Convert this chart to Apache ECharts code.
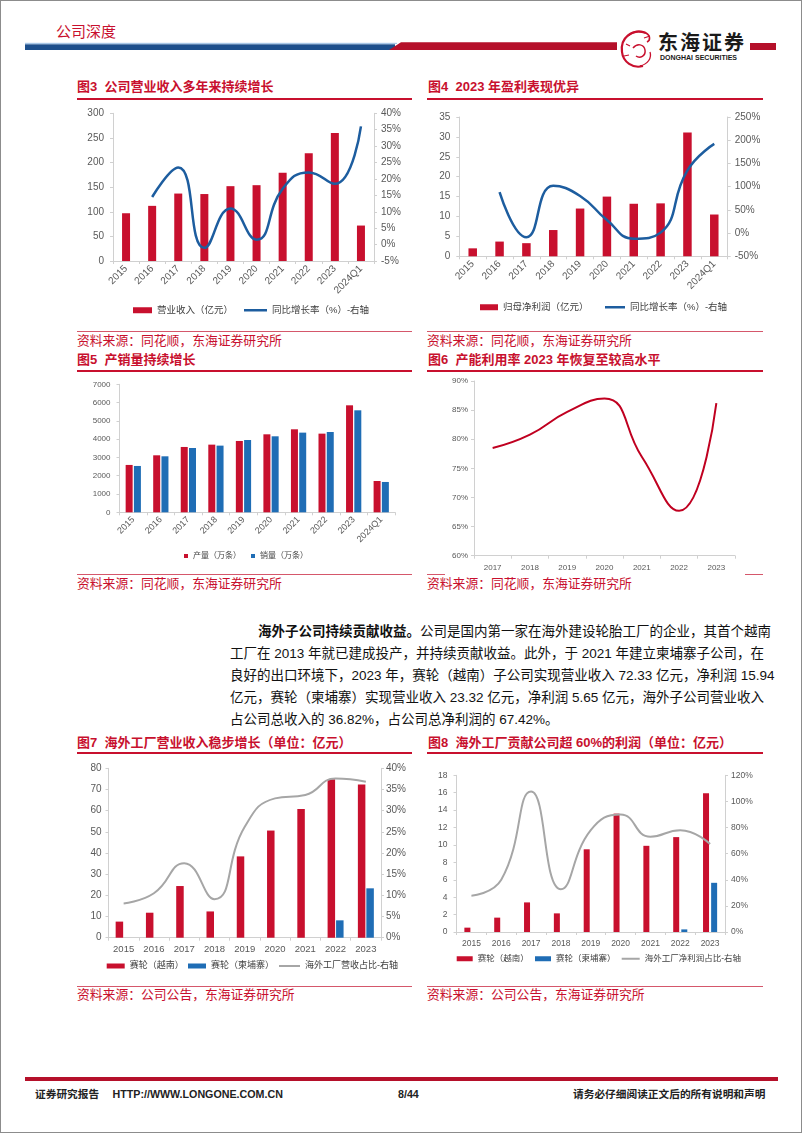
<!DOCTYPE html>
<html><head><meta charset="utf-8">
<script src="https://cdn.jsdelivr.net/npm/echarts@6/dist/echarts.min.js"></script>
<style>
html,body{margin:0;padding:0;background:#fff;}
#page{position:relative;width:802px;height:1133px;overflow:hidden;background:#fff;font-family:"Liberation Sans","Noto Sans CJK SC",sans-serif;}
#frame{position:absolute;left:0;top:0;width:802px;height:1133px;box-sizing:border-box;border:1px solid #8c8c8c;pointer-events:none;}
.abs{position:absolute;white-space:nowrap;}
.title{position:absolute;white-space:nowrap;font-weight:bold;font-size:13px;color:#c8102e;line-height:16px;}
.tline{position:absolute;height:2px;background:#c8102e;}
.sline{position:absolute;height:1px;background:#d5576b;}
.src{position:absolute;white-space:nowrap;font-size:12.8px;color:#c8102e;line-height:16px;}
.para{position:absolute;white-space:nowrap;font-family:"Liberation Sans Narrow","Liberation Sans","Noto Sans CJK SC",sans-serif;font-size:13.5px;line-height:22px;color:#111;text-align:justify;text-align-last:justify;}
.foot{position:absolute;white-space:nowrap;font-weight:bold;font-size:10.7px;line-height:14px;color:#222;}
#chart{position:absolute;left:0;top:0;width:802px;height:1133px;}
</style>
</head>
<body>
<div id="page">
  <svg class="abs" width="802" height="80" style="left:0;top:0">
    <rect x="25" y="42.8" width="372" height="1.2" fill="#a9c8e8"/>
    <rect x="25" y="44.3" width="370" height="5.7" fill="#1d4f8c"/>
    <polygon points="389,50 401,42.3 617,42.3 617,50" fill="#b5102a"/>
    <rect x="750" y="43" width="26" height="7" fill="#b5102a"/>
    <path d="M646 33 C632 28 620 38 622 52 C623 62 633 69 643 66" fill="none" stroke="#c8102e" stroke-width="2.2"/>
    <path d="M628 36 C633 31 640 30 646 33 C650 35 651 40 647 42" fill="none" stroke="#c8102e" stroke-width="1.6"/>
    <path d="M633 48 C637 43 644 44 645 50 C646 56 640 59 636 56" fill="none" stroke="#c8102e" stroke-width="1.5"/>
    <path d="M640 66 C648 64 652 58 650 52" fill="none" stroke="#c8102e" stroke-width="1.3"/>
    <path d="M626 44 L630 46 M624 56 L629 55 M644 38 L650 36" stroke="#c8102e" stroke-width="1.2"/>
  </svg>
  <div class="abs" style="left:56px;top:23px;font-size:15px;line-height:18px;color:#c8102e;">公司深度</div>
  <div class="abs" style="left:658px;top:31px;font-size:20px;line-height:24px;font-weight:bold;color:#1a1a1a;letter-spacing:2px;">东海证券</div>
  <div class="abs" style="left:660px;top:53px;font-size:7px;line-height:9px;font-weight:bold;color:#1a1a1a;">DONGHAI SECURITIES</div>

  <div class="title" style="left:77px;top:79px;">图3&nbsp;&nbsp;公司营业收入多年来持续增长</div>
  <div class="tline" style="left:77px;top:97.5px;width:335px;"></div>
  <div class="title" style="left:428px;top:79px;">图4&nbsp;&nbsp;2023 年盈利表现优异</div>
  <div class="tline" style="left:427px;top:97.5px;width:336px;"></div>
  <div class="sline" style="left:77px;top:331px;width:335px;"></div>
  <div class="sline" style="left:427px;top:331px;width:336px;"></div>
  <div class="src" style="left:77px;top:333px;">资料来源：同花顺，东海证券研究所</div>
  <div class="src" style="left:427px;top:333px;">资料来源：同花顺，东海证券研究所</div>

  <div class="title" style="left:77px;top:352px;">图5&nbsp;&nbsp;产销量持续增长</div>
  <div class="tline" style="left:77px;top:369.5px;width:335px;"></div>
  <div class="title" style="left:428px;top:352px;">图6&nbsp;&nbsp;产能利用率 2023 年恢复至较高水平</div>
  <div class="tline" style="left:427px;top:369.5px;width:336px;"></div>
  <div class="sline" style="left:77px;top:574px;width:335px;"></div>
  <div class="sline" style="left:427px;top:574px;width:18px;"></div>
  <div class="sline" style="left:745px;top:574px;width:18px;"></div>
  <div class="src" style="left:77px;top:576px;">资料来源：同花顺，东海证券研究所</div>
  <div class="src" style="left:427px;top:576px;">资料来源：同花顺，东海证券研究所</div>

  <div class="para" style="left:258px;top:621px;width:499px;"><b>海外子公司持续贡献收益。</b>公司是国内第一家在海外建设轮胎工厂的企业，其首个越南</div>
  <div class="para" style="left:230px;top:643px;width:527px;">工厂在 2013 年就已建成投产，并持续贡献收益。此外，于 2021 年建立柬埔寨子公司，在</div>
  <div class="para" style="left:230px;top:665px;width:527px;">良好的出口环境下，2023 年，赛轮（越南）子公司实现营业收入 72.33 亿元，净利润 15.94</div>
  <div class="para" style="left:230px;top:687px;width:527px;">亿元，赛轮（柬埔寨）实现营业收入 23.32 亿元，净利润 5.65 亿元，海外子公司营业收入</div>
  <div class="para" style="left:230px;top:709px;text-align-last:left;">占公司总收入的 36.82%，占公司总净利润的 67.42%。</div>

  <div class="title" style="left:77px;top:735px;">图7&nbsp;&nbsp;海外工厂营业收入稳步增长（单位：亿元）</div>
  <div class="tline" style="left:77px;top:752px;width:335px;"></div>
  <div class="title" style="left:428px;top:735px;">图8&nbsp;&nbsp;海外工厂贡献公司超 60%的利润（单位：亿元）</div>
  <div class="tline" style="left:427px;top:752px;width:336px;"></div>
  <div class="sline" style="left:77px;top:985.5px;width:335px;"></div>
  <div class="sline" style="left:427px;top:985.5px;width:336px;"></div>
  <div class="src" style="left:77px;top:986.5px;">资料来源：公司公告，东海证券研究所</div>
  <div class="src" style="left:427px;top:986.5px;">资料来源：公司公告，东海证券研究所</div>

  <div class="abs" style="left:25px;top:1077px;width:753px;height:4px;background:#b5102a;"></div>
  <div class="foot" style="left:35px;top:1087px;">证券研究报告</div>
  <div class="foot" style="left:112.5px;top:1087px;">HTTP://WWW.LONGONE.COM.CN</div>
  <div class="foot" style="left:398px;top:1087px;">8/44</div>
  <div class="foot" style="left:573px;top:1087px;">请务必仔细阅读正文后的所有说明和声明</div>

  <div id="chart"></div>
  <div id="frame"></div>
</div>
<script>
// ---- data ----
const years10 = ['2015','2016','2017','2018','2019','2020','2021','2022','2023','2024Q1'];
const revenue = [97,112,137,136,152,154,179,219,260,72];
const revenueGrowth = [null,14.5,23.5,-1,11,1.5,17,22,18.5,36];
const netProfit = [2.0,3.7,3.3,6.6,12.0,15.0,13.2,13.3,31.1,10.5];
const netProfitGrowth = [null,88,-9,102,80,28,-12,1,135,192];
const outputVol = [2590,3117,3573,3700,3901,4265,4539,4302,5851,1713];
const salesVol = [2534,3062,3518,3646,3955,4156,4357,4393,5578,1659];
const years7 = ['2017','2018','2019','2020','2021','2022','2023'];
const utilization = [78.5,80.8,84.7,87.0,77.0,67.7,86.2];
const years9 = ['2015','2016','2017','2018','2019','2020','2021','2022','2023'];
const vnRevenue = [7.6,11.8,24.4,12.4,38.4,50.6,60.8,74.8,72.33];
const khRevenue = [null,null,null,null,null,null,null,8.2,23.32];
const overseasRevShare = [8.1,10.5,17.6,9.1,26.2,32.9,33.7,37.6,36.82];
const vnProfit = [0.5,1.65,3.4,2.14,9.5,13.6,9.9,10.9,15.94];
const khProfit = [null,null,null,null,null,null,null,0.3,5.65];
const overseasProfitShare = [27.8,40,107.5,32.7,78,90,73,78,67.42];

const RED = '#c8102e', BLUE = '#1f6db5', LBLUE = '#1d5d9f', GRAY = '#a6a6a6';
const FONT = '"Liberation Sans","Noto Sans CJK SC",sans-serif';
const AXC = '#d0d0d0', LBC = '#595959';

function catAxis(gi, data, fs, rotate, margin){
  return {type:'category', gridIndex:gi, data:data,
    axisLine:{show:true,lineStyle:{color:AXC}},
    axisTick:{show:true,length:3,lineStyle:{color:AXC}},
    axisLabel:{color:LBC,fontSize:fs,fontFamily:FONT,rotate:rotate||0,margin:margin||6,interval:0},
    splitLine:{show:false}};
}
function valAxis(gi, min, max, interval, pos, fs, pct, margin){
  return {type:'value', gridIndex:gi, min:min, max:max, interval:interval, position:pos,
    axisLine:{show:true,lineStyle:{color:AXC}},
    axisTick:{show:true,length:3,lineStyle:{color:AXC}},
    axisLabel:{color:LBC,fontSize:fs,fontFamily:FONT,margin:margin,
      formatter: function(v){ return pct ? (String(v) + '%') : String(v); }},
    splitLine:{show:false}};
}
function lg(name, left, top, w, h, fs){
  return {data:[name], left:left, top:top, icon:'rect', itemWidth:w, itemHeight:h, itemGap:0,
    padding:0, selectedMode:false, textStyle:{fontSize:fs,color:'#404040',fontFamily:FONT}};
}

const option = {
  backgroundColor:'transparent',
  animation:false,
  textStyle:{fontFamily:FONT},
  grid:[
    {left:113, top:113.3, width:261, height:147.7},
    {left:459.3, top:117, width:268.4, height:139.3},
    {left:119.5, top:384.3, width:275.5, height:128},
    {left:474, top:381, width:261, height:174.7},
    {left:108.5, top:768.3, width:272.5, height:169.4},
    {left:456.5, top:775.3, width:268.5, height:156.7}
  ],
  xAxis:[
    catAxis(0, years10, 10, 45, 6),
    catAxis(1, years10, 10, 45, 6),
    catAxis(2, years10, 9, 45, 6),
    catAxis(3, years7, 8, 0, 8),
    catAxis(4, years9, 9.5, 0, 7),
    catAxis(5, years9, 8.5, 0, 7)
  ],
  yAxis:[
    valAxis(0, 0, 300, 50, 'left', 10, false, 9),
    valAxis(0, -5, 40, 5, 'right', 10, true, 7),
    valAxis(1, 0, 35, 5, 'left', 10, false, 9),
    valAxis(1, -50, 250, 50, 'right', 10, true, 7),
    valAxis(2, 0, 7000, 1000, 'left', 8, false, 9),
    valAxis(3, 60, 90, 5, 'left', 8, true, 6),
    valAxis(4, 0, 80, 10, 'left', 10, false, 7),
    valAxis(4, 0, 40, 5, 'right', 10, true, 5),
    valAxis(5, 0, 18, 2, 'left', 8.5, false, 9),
    valAxis(5, 0, 120, 20, 'right', 8.5, true, 6)
  ],
  legend:[
    lg('营业收入（亿元）', 133, 305.5, 19, 6, 9.5),
    lg('同比增长率（%）-右轴', 244, 305.5, 23, 2.5, 9.5),
    lg('归母净利润（亿元）', 480, 302.5, 18, 6, 9.5),
    lg('同比增长率（%）-右轴 ', 605, 302.5, 20, 2.5, 9.5),
    lg('产量（万条）', 184, 552, 4, 4, 8),
    lg('销量（万条）', 251, 552, 4, 4, 8),
    lg('赛轮（越南）', 106.7, 961.5, 18, 5, 9),
    lg('赛轮（柬埔寨）', 188, 961.5, 18, 5, 9),
    lg('海外工厂营收占比-右轴', 279, 961.5, 21, 2, 9),
    lg('赛轮（越南） ', 456.7, 954.5, 16, 5, 8.5),
    lg('赛轮（柬埔寨） ', 535, 954.5, 16, 5, 8.5),
    lg('海外工厂净利润占比-右轴', 621.7, 954.5, 18, 2, 8.5)
  ],
  series:[
    {name:'营业收入（亿元）', type:'bar', xAxisIndex:0, yAxisIndex:0, data:revenue, barWidth:8, itemStyle:{color:RED}},
    {name:'同比增长率（%）-右轴', type:'line', xAxisIndex:0, yAxisIndex:1, data:revenueGrowth, smooth:0.5, symbol:'none', lineStyle:{color:LBLUE,width:2.5}, itemStyle:{color:LBLUE}},
    {name:'归母净利润（亿元）', type:'bar', xAxisIndex:1, yAxisIndex:2, data:netProfit, barWidth:8.5, itemStyle:{color:RED}},
    {name:'同比增长率（%）-右轴 ', type:'line', xAxisIndex:1, yAxisIndex:3, data:netProfitGrowth, smooth:0.5, symbol:'none', lineStyle:{color:LBLUE,width:2.5}, itemStyle:{color:LBLUE}},
    {name:'产量（万条）', type:'bar', xAxisIndex:2, yAxisIndex:4, data:outputVol, barWidth:7, barGap:'18%', itemStyle:{color:RED}},
    {name:'销量（万条）', type:'bar', xAxisIndex:2, yAxisIndex:4, data:salesVol, barWidth:7, barGap:'18%', itemStyle:{color:BLUE}},
    {name:'产能利用率', type:'line', xAxisIndex:3, yAxisIndex:5, data:utilization, smooth:0.5, symbol:'none', lineStyle:{color:'#c00020',width:2}, itemStyle:{color:'#c00020'}},
    {name:'赛轮（越南）', type:'bar', xAxisIndex:4, yAxisIndex:6, data:vnRevenue, barWidth:7.5, barGap:'13%', itemStyle:{color:RED}},
    {name:'赛轮（柬埔寨）', type:'bar', xAxisIndex:4, yAxisIndex:6, data:khRevenue, barWidth:7.5, barGap:'13%', itemStyle:{color:BLUE}},
    {name:'海外工厂营收占比-右轴', type:'line', xAxisIndex:4, yAxisIndex:7, data:overseasRevShare, smooth:0.5, symbol:'none', lineStyle:{color:GRAY,width:2}, itemStyle:{color:GRAY}},
    {name:'赛轮（越南） ', type:'bar', xAxisIndex:5, yAxisIndex:8, data:vnProfit, barWidth:6, barGap:'35%', itemStyle:{color:RED}},
    {name:'赛轮（柬埔寨） ', type:'bar', xAxisIndex:5, yAxisIndex:8, data:khProfit, barWidth:6, barGap:'35%', itemStyle:{color:BLUE}},
    {name:'海外工厂净利润占比-右轴', type:'line', xAxisIndex:5, yAxisIndex:9, data:overseasProfitShare, smooth:0.5, symbol:'none', lineStyle:{color:GRAY,width:2}, itemStyle:{color:GRAY}}
  ]
};
const chart = echarts.init(document.getElementById('chart'), null, {renderer:'canvas'});
chart.setOption(option);
</script>
</body></html>
